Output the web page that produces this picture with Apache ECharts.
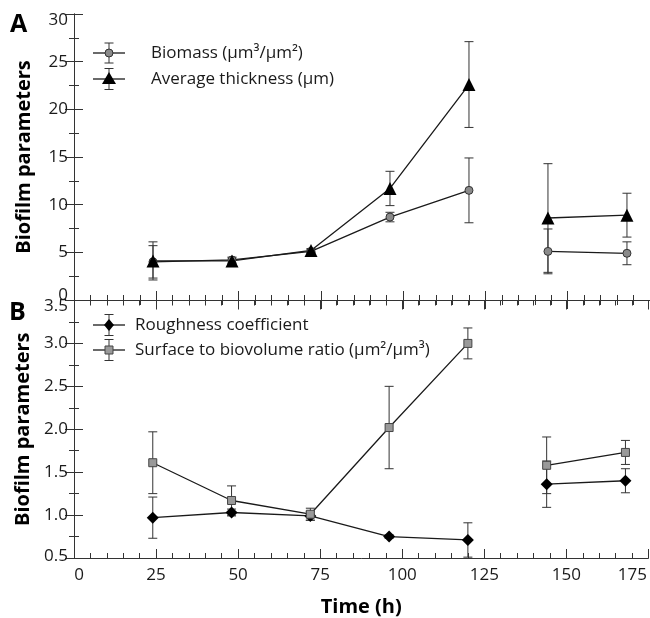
<!DOCTYPE html>
<html>
<head>
<meta charset="utf-8">
<script src="https://cdn.jsdelivr.net/npm/echarts@6/dist/echarts.min.js"></script>
<style>
  html, body { margin: 0; background: #fff; }
  #chart { width: 650px; height: 618px; }
</style>
</head>
<body>
<div id="chart"></div>
<script>
// sampling times (h); the lines are broken after 120 h
const hours = [24, 48, 72, 96, 120, 144, 168]
const gapAfter = 120

// panel A
const biomass = [4.0, 4.2, 5.1, 8.7, 11.5, 5.1, 4.9]
const biomassErr = [1.7, 0.3, 0.2, 0.5, 3.4, 2.35, 1.2]
const thickness = [4.1, 4.1, 5.2, 11.7, 22.6, 8.6, 8.9]
const thicknessErr = [2.0, 0.3, 0.2, 1.8, 4.5, 5.7, 2.3]

// panel B
const roughness = [0.97, 1.03, 0.99, 0.75, 0.71, 1.36, 1.40]
const roughnessErr = [0.24, 0.04, 0.05, 0.02, 0.2, 0.27, 0.14]
const surface = [1.61, 1.17, 1.01, 2.02, 3.0, 1.58, 1.73]
const surfaceErr = [0.36, 0.17, 0.07, 0.48, 0.18, 0.33, 0.14]

const xRange = [0, 175, 25]
const yRangeA = [0, 30, 5]
const yRangeB = [0.5, 3.5, 0.5]

const FONT = '"Open Sans", "DejaVu Sans", sans-serif'
const INK = '#1a1a1a'
const AXIS = '#333'

const chart = echarts.init(document.getElementById('chart'), null, { renderer: 'canvas' })

function lineData(vals) {
  const out = []
  hours.forEach((h, i) => {
    out.push([h, vals[i]])
    if (h === gapAfter) out.push([h, '-'])
  })
  return out
}

function errData(vals, err) {
  return hours.map((h, i) => [h, vals[i] - err[i], vals[i] + err[i]])
}

function errBars(params, api) {
  const x = api.value(0)
  const lo = api.coord([x, api.value(1)])
  const hi = api.coord([x, api.value(2)])
  const w = 4.5
  const style = { stroke: '#333', lineWidth: 1 }
  return {
    type: 'group',
    children: [
      { type: 'line', shape: { x1: lo[0], y1: lo[1], x2: hi[0], y2: hi[1] }, style },
      { type: 'line', shape: { x1: lo[0] - w, y1: lo[1], x2: lo[0] + w, y2: lo[1] }, style },
      { type: 'line', shape: { x1: hi[0] - w, y1: hi[1], x2: hi[0] + w, y2: hi[1] }, style },
    ],
  }
}

const tickStyle = {
  axisLine: { lineStyle: { color: AXIS, width: 1 } },
  axisTick: { inside: true, length: 9, lineStyle: { color: AXIS } },
  minorTick: { show: true, length: 5, lineStyle: { color: AXIS } },
  splitLine: { show: false },
}

function xAxis(grid, pos, labels) {
  return {
    type: 'value', gridIndex: grid, position: pos,
    min: xRange[0], max: xRange[1], interval: xRange[2],
    ...tickStyle,
    minorTick: { ...tickStyle.minorTick, splitNumber: 5 },
    axisLabel: labels
      ? {
          show: true, color: INK, fontFamily: FONT, fontSize: 17, margin: 9,
          formatter: (v) => (v === xRange[0] ? '{l|' + v + '}' : v === xRange[1] ? '{r|' + v + '}' : String(v)),
          rich: {
            l: { fontFamily: FONT, fontSize: 17, color: INK, padding: [0, 0, 0, 10] },
            r: { fontFamily: FONT, fontSize: 17, color: INK, padding: [0, 32, 0, 0] },
          },
        }
      : { show: false },
    name: labels ? 'Time (h)' : '',
    nameLocation: 'middle',
    nameGap: 39,
    nameTextStyle: { fontFamily: FONT, fontSize: 20, fontWeight: 'bold', color: '#000' },
  }
}

function yAxis(grid, pos, range, labels, fmt) {
  return {
    type: 'value', gridIndex: grid, position: pos,
    min: range[0], max: range[1], interval: range[2],
    ...tickStyle,
    minorTick: { ...tickStyle.minorTick, splitNumber: 2 },
    axisLabel: labels
      ? {
          show: true, color: INK, fontFamily: FONT, fontSize: 17, margin: 6,
          formatter: (v) => {
            const s = fmt(v)
            if (v === range[1]) return '{t|' + s + '}'
            if (v === range[0]) return '{b|' + s + '}'
            return s
          },
          rich: {
            t: { fontFamily: FONT, fontSize: 17, color: INK, padding: [12, 0, 0, 0] },
            b: { fontFamily: FONT, fontSize: 17, color: INK, padding: [0, 0, grid === 0 ? 10 : 4, 0] },
          },
        }
      : { show: false },
    name: labels ? 'Biofilm parameters' : '',
    nameLocation: 'middle',
    nameGap: 40,
    nameTextStyle: { fontFamily: FONT, fontSize: 20, fontWeight: 'bold', color: '#000' },
  }
}

function lineSeries(name, vals, axis, symbol, size, fill, border) {
  return {
    type: 'line', name, xAxisIndex: axis, yAxisIndex: axis * 2,
    data: lineData(vals), connectNulls: false,
    symbol, symbolSize: size, showSymbol: true,
    lineStyle: { color: INK, width: 1.3 },
    itemStyle: { color: fill, borderColor: border, borderWidth: border ? 1 : 0, opacity: 1 },
    z: 3,
  }
}

function errSeries(vals, err, axis) {
  return {
    type: 'custom', xAxisIndex: axis, yAxisIndex: axis * 2,
    renderItem: errBars, data: errData(vals, err),
    encode: { x: 0, y: [1, 2] }, z: 2,
  }
}

// legend rows: marker + cross-shaped error icon + label
function legendRow(y, half, marker, label, textX) {
  const cx = 109
  const st = { stroke: '#333', lineWidth: 1 }
  const items = [
    { type: 'line', shape: { x1: 93, y1: y, x2: 125, y2: y }, style: { stroke: INK, lineWidth: 1.3 } },
    { type: 'line', shape: { x1: cx, y1: y - half, x2: cx, y2: y + half }, style: st },
    { type: 'line', shape: { x1: cx - 4.5, y1: y - half, x2: cx + 4.5, y2: y - half }, style: st },
    { type: 'line', shape: { x1: cx - 4.5, y1: y + half, x2: cx + 4.5, y2: y + half }, style: st },
  ]
  if (marker === 'circle') items.push({ type: 'circle', shape: { cx, cy: y, r: 4 }, style: { fill: '#8a8a8a', stroke: '#333', lineWidth: 1 } })
  if (marker === 'triangle') items.push({ type: 'polygon', shape: { points: [[cx, y - 7], [cx + 7, y + 5], [cx - 7, y + 5]] }, style: { fill: '#000' } })
  if (marker === 'diamond') items.push({ type: 'polygon', shape: { points: [[cx, y - 6], [cx + 5, y], [cx, y + 6], [cx - 5, y]] }, style: { fill: '#000' } })
  if (marker === 'rect') items.push({ type: 'rect', shape: { x: cx - 4, y: y - 4, width: 8, height: 8 }, style: { fill: '#999', stroke: '#444', lineWidth: 1 } })
  items.push({
    type: 'text', x: textX, y,
    style: { text: label, font: '17px ' + FONT, fill: INK, verticalAlign: 'middle' },
  })
  return items
}

chart.setOption({
  animation: false,
  backgroundColor: '#fff',
  grid: [
    { left: 74, right: 0, top: 14, height: 286 },
    { left: 74, right: 0, top: 300.5, height: 258 },
  ],
  xAxis: [
    xAxis(0, 'bottom', false),
    xAxis(1, 'bottom', true),
    xAxis(0, 'top', false),
    xAxis(1, 'top', false),
  ],
  yAxis: [
    yAxis(0, 'left', yRangeA, true, (v) => String(v)),
    yAxis(0, 'right', yRangeA, false),
    yAxis(1, 'left', yRangeB, true, (v) => v.toFixed(1)),
    yAxis(1, 'right', yRangeB, false),
  ],
  graphic: [
    { type: 'text', x: 10, y: 12, style: { text: 'A', font: 'bold 25px ' + FONT, fill: '#000' } },
    { type: 'text', x: 9, y: 300, style: { text: 'B', font: 'bold 25px ' + FONT, fill: '#000' } },
    ...legendRow(53, 10, 'circle', 'Biomass (µm³/µm²)', 151),
    ...legendRow(79, 10.5, 'triangle', 'Average thickness (µm)', 151),
    ...legendRow(325, 10.5, 'diamond', 'Roughness coefficient', 135),
    ...legendRow(350, 10.5, 'rect', 'Surface to biovolume ratio (µm²/µm³)', 135),
  ],
  series: [
    errSeries(biomass, biomassErr, 0),
    errSeries(thickness, thicknessErr, 0),
    lineSeries('Biomass', biomass, 0, 'circle', 8, '#8a8a8a', '#333'),
    lineSeries('Average thickness', thickness, 0, 'triangle', 13, '#000', null),
    errSeries(roughness, roughnessErr, 1),
    errSeries(surface, surfaceErr, 1),
    lineSeries('Roughness coefficient', roughness, 1, 'diamond', 12, '#000', null),
    lineSeries('Surface to biovolume ratio', surface, 1, 'rect', 8, '#999', '#444'),
  ],
})
</script>
</body>
</html>
